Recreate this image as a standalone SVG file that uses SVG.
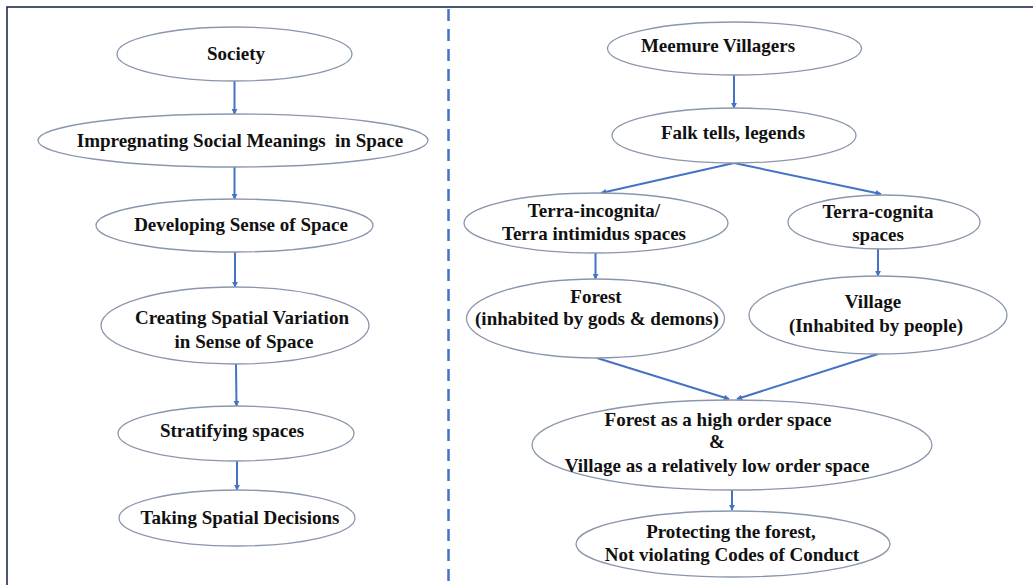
<svg xmlns="http://www.w3.org/2000/svg" width="1033" height="585" viewBox="0 0 1033 585">
<defs>
<style>
.n ellipse{fill:#ffffff;stroke:#8a96ad;stroke-width:1.3}
.n text{font-family:"Liberation Serif","Times New Roman",serif;font-weight:bold;font-size:19px;fill:#111111;text-anchor:middle}
.c line{stroke:#4472c4;stroke-width:2;marker-end:url(#ah)}
</style>
<marker id="ah" viewBox="0 0 8 8" refX="7" refY="4" markerWidth="6" markerHeight="6" markerUnits="userSpaceOnUse" orient="auto">
<path d="M0,0 L8,4 L0,8 z" fill="#4472c4"/>
</marker>
</defs>
<rect x="0" y="0" width="1033" height="585" fill="#ffffff"/>
<rect x="7" y="7" width="1040" height="600" fill="none" stroke="#1f2d4d" stroke-width="1.6"/>
<line x1="448.5" y1="9" x2="448.5" y2="585" stroke="#4472c4" stroke-width="2.5" stroke-dasharray="12 8"/>

<g id="connectors" class="c">
<line x1="234.5" y1="81" x2="234.5" y2="114"/>
<line x1="234.5" y1="167" x2="234.5" y2="199"/>
<line x1="235" y1="252" x2="235" y2="287"/>
<line x1="236" y1="364" x2="236.5" y2="406"/>
<line x1="237" y1="461" x2="237" y2="490"/>
<line x1="734" y1="75" x2="734" y2="108"/>
<line x1="734" y1="163" x2="601" y2="193"/>
<line x1="734" y1="163" x2="881" y2="194"/>
<line x1="595.5" y1="253" x2="595.5" y2="279"/>
<line x1="878" y1="249" x2="878" y2="276"/>
<line x1="597" y1="358" x2="729" y2="399"/>
<line x1="878" y1="354" x2="737" y2="399"/>
<line x1="732" y1="490" x2="732" y2="510"/>
</g>

<g id="society" class="n"><ellipse cx="234.5" cy="54" rx="117.5" ry="27"/><text x="236" y="60">Society</text></g>
<g id="impregnating" class="n"><ellipse cx="233" cy="140.5" rx="195" ry="26.5"/><text x="240" y="147">Impregnating Social Meanings&#160; in Space</text></g>
<g id="developing" class="n"><ellipse cx="234.5" cy="225.5" rx="138.5" ry="26.5"/><text x="241" y="231">Developing Sense of Space</text></g>
<g id="creating" class="n"><ellipse cx="235" cy="325.5" rx="134" ry="38.5"/><text x="242" y="324">Creating Spatial Variation</text><text x="244" y="348">in Sense of Space</text></g>
<g id="stratifying" class="n"><ellipse cx="236" cy="433.5" rx="118" ry="27.5"/><text x="232" y="437">Stratifying spaces</text></g>
<g id="taking" class="n"><ellipse cx="237" cy="518" rx="118" ry="28"/><text x="240" y="524">Taking Spatial Decisions</text></g>

<g id="meemure" class="n"><ellipse cx="734.5" cy="48.5" rx="127" ry="26.5"/><text x="718" y="52">Meemure Villagers</text></g>
<g id="falk" class="n"><ellipse cx="734" cy="135.5" rx="122" ry="27.5"/><text x="733" y="139">Falk tells, legends</text></g>
<g id="terra-incognita" class="n"><ellipse cx="596" cy="223" rx="132" ry="30"/><text x="594" y="217">Terra-incognita/</text><text x="594" y="240">Terra intimidus spaces</text></g>
<g id="terra-cognita" class="n"><ellipse cx="884" cy="222" rx="96" ry="27"/><text x="878" y="218">Terra-cognita</text><text x="878" y="241">spaces</text></g>
<g id="forest" class="n"><ellipse cx="595.5" cy="318.5" rx="129" ry="39.5"/><text x="596" y="303">Forest</text><text x="597" y="325">(inhabited by gods &amp; demons)</text></g>
<g id="village" class="n"><ellipse cx="878" cy="315" rx="129" ry="39"/><text x="873" y="308">Village</text><text x="876" y="332">(Inhabited by people)</text></g>
<g id="order" class="n"><ellipse cx="732" cy="445" rx="200" ry="45"/><text x="718" y="426">Forest as a high order space</text><text x="717" y="448">&amp;</text><text x="717" y="472">Village as a relatively low order space</text></g>
<g id="protecting" class="n"><ellipse cx="733" cy="544" rx="157" ry="33"/><text x="731" y="538">Protecting the forest,</text><text x="732" y="561">Not violating Codes of Conduct</text></g>
</svg>
